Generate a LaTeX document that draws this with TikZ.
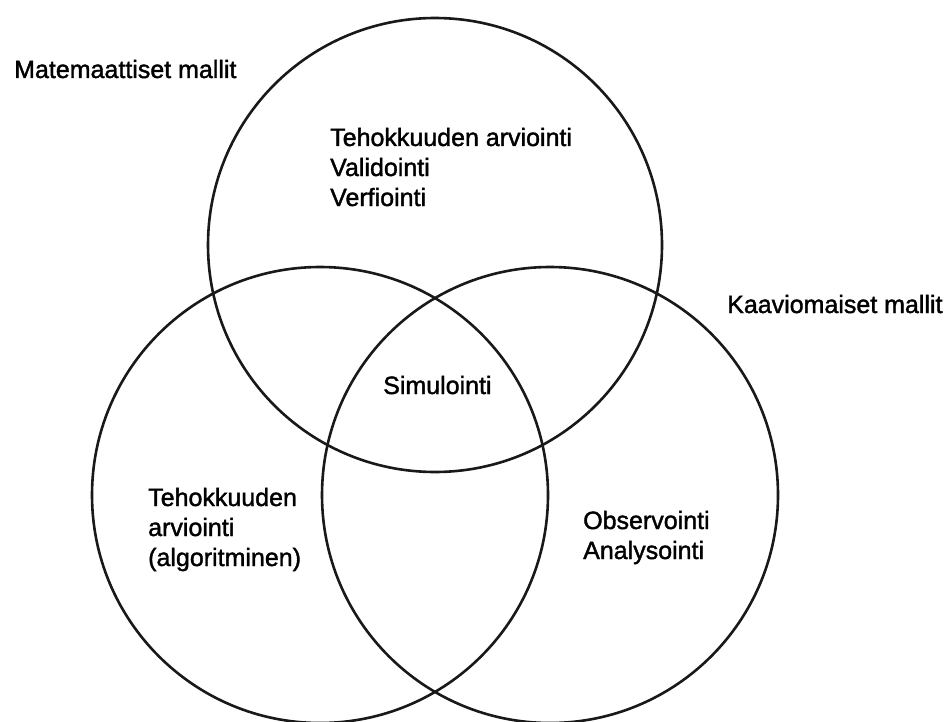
\documentclass[tikz,border=0pt]{standalone}
\usepackage{fontspec}
\setmainfont{Liberation Sans}
\newfontfamily\lblfont{Liberation Sans}[FakeBold=1.5]
\begin{document}
\begin{tikzpicture}[x=1pt,y=-1pt,
  ring/.style={draw=black!90,line width=2.6pt},
  lbl/.style={anchor=base west,inner sep=0pt,font=\fontsize{25}{30}\lblfont}]
  \useasboundingbox[fill=white] (0,0) rectangle (952,722);

  % three overlapping sets
  \draw[ring] (435,245) circle[radius=227];
  \draw[ring] (320,495) circle[radius=228];
  \draw[ring] (550,495) circle[radius=228];

  % set titles
  \node[lbl] (mat) at (14,78) {Matemaattiset mallit};
  \node[lbl] (kaa) at (727,313) {Kaaviomaiset mallit};
  \node[lbl] (alg) at (2,744) {Algoritmiset mallit};

  % upper set
  \node[lbl] (t1) at (330,146) {Tehokkuuden arviointi};
  \node[lbl] (t2) at (330,176) {Validointi};
  \node[lbl] (t3) at (330,206) {Verfiointi};

  % common part
  \node[lbl] (sim) at (383,394) {Simulointi};

  % lower left set
  \node[lbl] (l1) at (148,506) {Tehokkuuden};
  \node[lbl] (l2) at (148,536) {arviointi};
  \node[lbl] (l3) at (148,566) {(algoritminen)};

  % lower right set
  \node[lbl] (r1) at (583,529) {Observointi};
  \node[lbl] (r2) at (583,559) {Analysointi};
\end{tikzpicture}
\end{document}
